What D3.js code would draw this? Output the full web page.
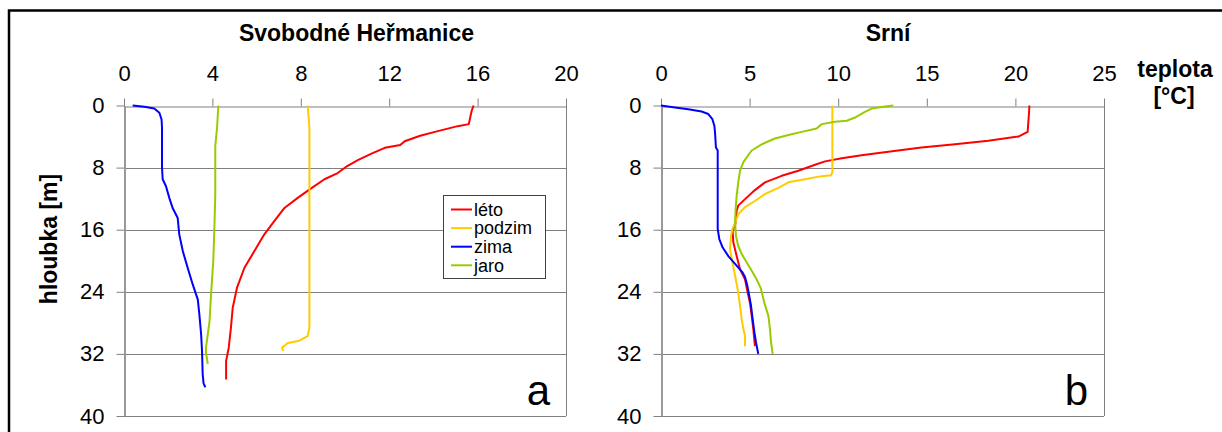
<!DOCTYPE html>
<html>
<head>
<meta charset="utf-8">
<script src="https://cdn.jsdelivr.net/npm/d3@7"></script>
<style>
  html, body { margin: 0; padding: 0; background: #fff; }
  svg { display: block; font-family: "Liberation Sans", Arial, sans-serif; }
</style>
</head>
<body>
<svg id="chart" width="1222" height="432"></svg>
<script>
// Temperature profiles: [temperature °C, depth m]
const seasons = ["léto", "podzim", "zima", "jaro"];
const seasonColors = ["#ff0000", "#ffcc00", "#0000ff", "#99cc00"];

const xTicksA = [0, 4, 8, 12, 16, 20];
const xTicksB = [0, 5, 10, 15, 20, 25];
const yTicks = [0, 8, 16, 24, 32, 40];

// Svobodné Heřmanice
const svhLeto = [[15.82,0],[15.73,0.7],[15.6,2.4],[15.1,2.66],[14.2,3.3],[13.4,3.9],[12.7,4.6],[12.5,5.1],[11.8,5.45],[11.2,6.2],[10.6,7.0],[10.1,7.8],[9.67,8.7],[9.07,9.5],[8.4,10.8],[7.86,11.9],[7.26,13.2],[6.8,14.9],[6.35,16.6],[5.9,18.75],[5.45,20.9],[5.11,23.5],[4.92,26.05],[4.84,28.6],[4.74,31.2],[4.62,32.9],[4.62,35.3]];
const svhPodzim = [[8.31,0],[8.39,2.9],[8.39,15],[8.39,28.6],[8.31,29.7],[7.93,30.3],[7.41,30.6],[7.15,31.2],[7.21,31.6]];
const svhZima = [[0.39,0],[0.92,0.17],[1.37,0.39],[1.6,0.94],[1.7,1.8],[1.72,2.9],[1.72,8.0],[1.75,9.5],[1.9,10.4],[2.05,11.9],[2.2,13.2],[2.43,14.5],[2.5,16.6],[2.66,18.75],[2.88,20.9],[3.11,23.05],[3.34,25.0],[3.41,26.9],[3.49,29.5],[3.53,31.6],[3.56,34.6],[3.6,35.8],[3.68,36.3]];
const svhJaro = [[4.27,0],[4.21,2.9],[4.13,5.2],[4.13,11.5],[4.09,15.75],[4.04,20.0],[3.94,24.3],[3.87,27.8],[3.79,29.5],[3.71,31.2],[3.71,31.8],[3.79,33.3]];

// Srní
const srnLeto = [[20.79,0],[20.77,0.9],[20.69,3.4],[20.17,4.0],[18.47,4.55],[16.59,5.0],[14.7,5.4],[12.83,5.97],[11.32,6.4],[10.2,6.8],[9.26,7.2],[8.69,7.64],[7.75,8.4],[6.81,9.06],[5.87,9.9],[5.3,10.9],[4.74,12.06],[4.36,12.9],[4.27,13.56],[4.23,14.6],[4.18,15.5],[4.04,16.1],[4.08,17.6],[4.27,19.4],[4.46,21.1],[4.74,22.4],[4.89,24.1],[5.02,25.4],[5.12,27.1],[5.21,28.8],[5.3,31.0]];
const srnPodzim = [[9.67,0],[9.67,8.6],[9.59,9.0],[9.07,9.1],[8.13,9.5],[7.19,9.9],[6.62,10.6],[5.87,11.4],[5.3,12.3],[4.74,13.1],[4.36,14.0],[4.23,14.85],[4.14,15.3],[4.03,15.9],[3.95,16.8],[3.89,18.5],[4.03,20.2],[4.18,21.9],[4.36,24.1],[4.46,25.8],[4.55,27.5],[4.65,28.8],[4.74,29.7],[4.74,31.0]];
const srnZima = [[0,0],[0.79,0.26],[1.54,0.47],[2.29,0.77],[2.67,1.1],[2.9,1.76],[3.01,2.6],[3.05,3.5],[3.1,5.4],[3.2,5.8],[3.2,9.5],[3.2,15.9],[3.29,17.2],[3.48,18.3],[3.8,19.4],[4.18,20.4],[4.6,21.5],[4.74,22.1],[4.87,23.2],[4.98,24.5],[5.08,25.8],[5.17,27.5],[5.27,29.2],[5.36,30.5],[5.49,32.0]];
const srnJaro = [[13.11,0],[12.64,0.13],[11.89,0.39],[11.51,0.82],[10.95,1.55],[10.48,1.97],[9.82,2.1],[9.07,2.4],[8.78,2.96],[7.94,3.4],[7.19,3.8],[6.43,4.25],[5.68,5.0],[5.12,5.8],[4.89,6.5],[4.65,7.3],[4.46,8.4],[4.36,9.9],[4.27,11.6],[4.21,13.35],[4.18,15.1],[4.23,16.8],[4.36,18.1],[4.55,19.1],[4.83,20.2],[5.12,21.3],[5.4,22.4],[5.64,23.6],[5.83,25.4],[6.06,27.1],[6.15,28.8],[6.21,30.5],[6.3,32.0]];

const svg = d3.select("#chart");
const GRID = "#808080";

// outer frame
svg.append("rect")
  .attr("x", 9).attr("y", 10.5)
  .attr("width", 1400).attr("height", 600)
  .attr("fill", "none").attr("stroke", "#000").attr("stroke-width", 2.5);

function drawPanel(cfg) {
  const x = d3.scaleLinear().domain(cfg.xDomain).range(cfg.xRange);
  const y = d3.scaleLinear().domain([0, 40]).range([105.5, 416]);
  const g = svg.append("g");

  // horizontal gridlines
  g.selectAll("line.grid").data(yTicks.slice(1)).enter().append("line")
    .attr("x1", x.range()[0]).attr("x2", x.range()[1])
    .attr("y1", d => Math.round(y(d)) + 0.5).attr("y2", d => Math.round(y(d)) + 0.5)
    .attr("stroke", GRID).attr("stroke-width", 1);

  // right border of plot area
  g.append("line")
    .attr("x1", Math.round(x.range()[1]) + 0.5).attr("x2", Math.round(x.range()[1]) + 0.5)
    .attr("y1", y(0)).attr("y2", y(40))
    .attr("stroke", GRID);

  // top temperature axis
  const xAxis = d3.axisTop(x).tickValues(cfg.xTicks).tickSize(8).tickSizeOuter(0).tickPadding(18);
  const gx = g.append("g").attr("transform", `translate(0,${Math.round(y(0)) + 0.5})`).call(xAxis);
  gx.select(".domain").attr("stroke", GRID).attr("stroke-width", 1.2);
  gx.selectAll(".tick line").attr("stroke", GRID);
  gx.selectAll(".tick text").attr("font-size", 22).attr("fill", "#000")
    .attr("font-family", "Liberation Sans, Arial, sans-serif").attr("dy", 0);

  // left depth axis
  const yAxis = d3.axisLeft(y).tickValues(yTicks).tickSize(8).tickSizeOuter(0).tickPadding(12);
  const gy = g.append("g").attr("transform", `translate(${Math.round(x.range()[0]) + 0.5},0)`).call(yAxis);
  gy.select(".domain").attr("stroke", "#999").attr("stroke-width", 2);
  gy.selectAll(".tick line").attr("stroke", GRID);
  gy.selectAll(".tick text").attr("font-size", 22).attr("fill", "#000")
    .attr("font-family", "Liberation Sans, Arial, sans-serif");

  // profiles
  const line = d3.line().x(d => x(d[0])).y(d => y(d[1]));
  cfg.series.forEach((s, i) => {
    g.append("path").datum(s)
      .attr("d", line)
      .attr("fill", "none")
      .attr("stroke", seasonColors[i])
      .attr("stroke-width", 2)
      .attr("stroke-linejoin", "round");
  });

  // title
  g.append("text").attr("x", cfg.titleX).attr("y", 41)
    .attr("text-anchor", "middle").attr("font-size", 23).attr("font-weight", "bold")
    .text(cfg.title);

  // panel letter
  g.append("text").attr("x", x.range()[1] - 16).attr("y", 405)
    .attr("text-anchor", "end").attr("font-size", 42)
    .text(cfg.letter);

  return { x, y, g };
}

const pA = drawPanel({
  xDomain: [0, 20], xRange: [124, 566], xTicks: xTicksA,
  series: [svhLeto, svhPodzim, svhZima, svhJaro],
  title: "Svobodné Heřmanice", titleX: 356.5, letter: "a"
});

drawPanel({
  xDomain: [0, 25], xRange: [661, 1104], xTicks: xTicksB,
  series: [srnLeto, srnPodzim, srnZima, srnJaro],
  title: "Srní", titleX: 888, letter: "b"
});

// legend
const lg = pA.g.append("g");
lg.append("rect").attr("x", 443.5).attr("y", 195.5).attr("width", 102).attr("height", 83)
  .attr("fill", "#fff").attr("stroke", "#404040").attr("stroke-width", 1);
seasons.forEach((s, i) => {
  const cy = 209.5 + i * 18.6;
  lg.append("line").attr("x1", 451).attr("x2", 472).attr("y1", cy).attr("y2", cy)
    .attr("stroke", seasonColors[i]).attr("stroke-width", 2);
  lg.append("text").attr("x", 474).attr("y", cy).attr("dy", "0.35em")
    .attr("font-size", 18)
    .text(s);
});

// axis titles
svg.append("text")
  .attr("transform", "translate(57,239) rotate(-90)")
  .attr("text-anchor", "middle").attr("font-size", 23).attr("font-weight", "bold")
  .text("hloubka [m]");
svg.append("text").attr("x", 1175).attr("y", 77)
  .attr("text-anchor", "middle").attr("font-size", 23).attr("font-weight", "bold")
  .text("teplota");
svg.append("text").attr("x", 1174).attr("y", 104)
  .attr("text-anchor", "middle").attr("font-size", 23).attr("font-weight", "bold")
  .text("[°C]");
</script>
</body>
</html>
